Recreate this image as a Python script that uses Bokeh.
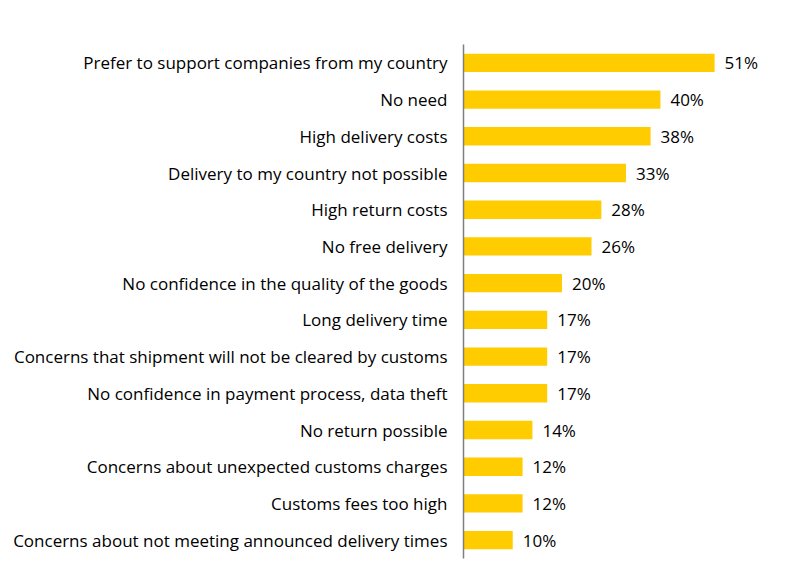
from bokeh.plotting import figure
from bokeh.models import ColumnDataSource, Range1d, FactorRange
from bokeh.core.properties import value
from bokeh.embed import file_html
from bokeh.resources import INLINE

categories = [
    "Prefer to support companies from my country",
    "No need",
    "High delivery costs",
    "Delivery to my country not possible",
    "High return costs",
    "No free delivery",
    "No confidence in the quality of the goods",
    "Long delivery time",
    "Concerns that shipment will not be cleared by customs",
    "No confidence in payment process, data theft",
    "No return possible",
    "Concerns about unexpected customs charges",
    "Customs fees too high",
    "Concerns about not meeting announced delivery times",
]
values = [51, 40, 38, 33, 28, 26, 20, 17, 17, 17, 14, 12, 12, 10]
labels = [f"{v}%" for v in values]

FONT = "Open Sans"

src = ColumnDataSource(dict(cat=categories, val=values, lab=labels))

p = figure(
    width=784, height=568,
    y_range=FactorRange(*reversed(categories)),
    x_range=Range1d(0, 65.2),
    output_backend="svg", toolbar_location=None,
    min_border_left=463, min_border_right=0, min_border_top=44, min_border_bottom=10,
)
p.hbar(y="cat", right="val", left=0, height=0.5, source=src,
       fill_color="#FFCC00", line_color=None)
p.text(x="val", y="cat", text="lab", source=src, x_offset=10,
       text_align="left", text_baseline="middle",
       text_font=value(FONT), text_font_size="17px", text_color="#000000")

p.xaxis.visible = False
p.xgrid.visible = False
p.ygrid.visible = False
p.outline_line_color = None
p.yaxis.axis_line_color = "#7f7f7f"
p.yaxis.axis_line_width = 1.5
p.yaxis.major_tick_line_color = None
p.yaxis.minor_tick_line_color = None
p.yaxis.major_label_standoff = 10
p.yaxis.major_label_text_font = FONT
p.yaxis.major_label_text_font_size = "17px"
p.yaxis.major_label_text_color = "#000000"
p.background_fill_color = "white"
p.border_fill_color = "white"

open("out.html", "w").write(file_html(p, INLINE))
